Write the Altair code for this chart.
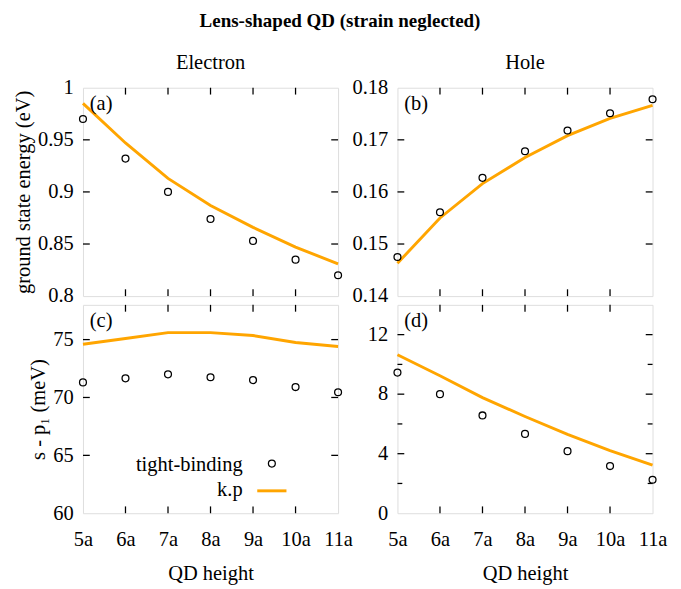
import altair as alt
import pandas as pd

# ---------------- data ----------------
heights = [5, 6, 7, 8, 9, 10, 11]
height_labels = ["5a", "6a", "7a", "8a", "9a", "10a", "11a"]

tb_electron = [0.970, 0.932, 0.900, 0.874, 0.853, 0.835, 0.820]
kp_electron = [0.985, 0.947, 0.913, 0.887, 0.866, 0.847, 0.831]

tb_hole = [0.1475, 0.1561, 0.1627, 0.1678, 0.1718, 0.1751, 0.1778]
kp_hole = [0.1463, 0.1550, 0.1616, 0.1666, 0.1708, 0.1741, 0.1766]

tb_sp_electron = [71.3, 71.65, 72.0, 71.75, 71.5, 70.9, 70.45]
kp_sp_electron = [74.6, 75.1, 75.6, 75.6, 75.35, 74.75, 74.4]

tb_sp_hole = [9.45, 8.0, 6.57, 5.33, 4.17, 3.17, 2.25]
kp_sp_hole = [10.65, 9.24, 7.77, 6.5, 5.3, 4.21, 3.23]

legend_labels = ["tight-binding", "k.p"]

FONT = "Liberation Serif"
W, H = 262, 214
TICK = 7
ORANGE = "#FFA500"
LBL = 21   # tick label size
TTL = 21   # axis title size


def panel(tb, kp, ydom, yticks, fmt, label, minor=None, show_x=False,
          ytitle="", title=None, legend=False):
    df = pd.DataFrame({"h": heights, "tb": tb, "kp": kp})
    xscale = alt.Scale(domain=[5, 11], nice=False, zero=False)
    yscale = alt.Scale(domain=ydom, nice=False, zero=False)
    if show_x:
        xaxis = alt.Axis(values=heights, labelExpr="datum.value + 'a'",
                         ticks=False, domain=False, grid=False,
                         labelOverlap=False, labelFlush=False,
                         labelFont=FONT, labelFontSize=LBL, labelColor="black",
                         labelPadding=16, title="QD height", titleFont=FONT,
                         titleFontSize=TTL, titleFontWeight="normal",
                         titleColor="black", titlePadding=14)
    else:
        xaxis = None
    yaxis = alt.Axis(values=yticks, format=fmt, ticks=False, domain=False,
                     grid=False, labelOverlap=False, labelFlush=False,
                     labelFont=FONT, labelFontSize=LBL,
                     labelColor="black", labelPadding=10, title=ytitle,
                     titleFont=FONT, titleFontSize=TTL,
                     titleFontWeight="normal", titleColor="black",
                     titlePadding=4)
    X = alt.X("h:Q", scale=xscale, axis=xaxis, title="QD height" if show_x else None)
    Yk = alt.Y("kp:Q", scale=yscale, axis=yaxis, title=ytitle)

    line = alt.Chart(df).mark_line(color=ORANGE, strokeWidth=3).encode(x=X, y=Yk)
    pts = alt.Chart(df).mark_point(shape="circle", filled=False, color="black",
                                   opacity=1, size=50, strokeWidth=1.3).encode(
        x=X, y=alt.Y("tb:Q", scale=yscale, axis=yaxis, title=ytitle))

    inner_x = [h for h in heights if 5 < h < 11]
    xt = pd.DataFrame({"h": inner_x})
    xt_bot = alt.Chart(xt).mark_rule(color="black", strokeWidth=1.3).encode(
        x=X, y=alt.value(H - TICK), y2=alt.value(H))
    xt_top = alt.Chart(xt).mark_rule(color="black", strokeWidth=1.3).encode(
        x=X, y=alt.value(0), y2=alt.value(TICK))

    Yv = alt.Y("v:Q", scale=yscale, axis=yaxis, title=ytitle)
    inner_y = [v for v in yticks if ydom[0] < v < ydom[1]]
    yt = pd.DataFrame({"v": inner_y})
    yt_l = alt.Chart(yt).mark_rule(color="black", strokeWidth=1.3).encode(
        y=Yv, x=alt.value(0), x2=alt.value(TICK))
    yt_r = alt.Chart(yt).mark_rule(color="black", strokeWidth=1.3).encode(
        y=Yv, x=alt.value(W - TICK), x2=alt.value(W))
    layers = [line, pts, xt_bot, xt_top, yt_l, yt_r]
    if minor:
        ym = pd.DataFrame({"v": minor})
        layers.append(alt.Chart(ym).mark_rule(color="black", strokeWidth=1.3).encode(
            y=Yv, x=alt.value(0), x2=alt.value(5)))
        layers.append(alt.Chart(ym).mark_rule(color="black", strokeWidth=1.3).encode(
            y=Yv, x=alt.value(W - 5), x2=alt.value(W)))
    lab = alt.Chart(pd.DataFrame({"t": [label]})).mark_text(
        font=FONT, fontSize=TTL, align="left", baseline="middle", color="black"
    ).encode(text="t:N", x=alt.value(7), y=alt.value(17))
    layers.append(lab)
    if legend:
        lt = pd.DataFrame({"t": legend_labels, "yy": [165, 190]})
        layers.append(alt.Chart(lt).mark_text(
            font=FONT, fontSize=TTL, align="right", baseline="middle", color="black"
        ).encode(text="t:N", x=alt.value(164), y=alt.Y("yy:Q", scale=None, axis=None)))
        layers.append(alt.Chart(pd.DataFrame({"t": [legend_labels[0]]})).mark_point(
            shape="circle", filled=False, color="black", opacity=1, size=50,
            strokeWidth=1.3
        ).encode(x=alt.value(194), y=alt.value(163)))
        layers.append(alt.Chart(pd.DataFrame({"t": [legend_labels[1]]})).mark_rule(
            color=ORANGE, strokeWidth=3
        ).encode(x=alt.value(179), x2=alt.value(209), y=alt.value(191)))

    ch = alt.layer(*layers).properties(width=W, height=H)
    if title:
        ch = ch.properties(title=alt.TitleParams(title, font=FONT, fontSize=TTL,
                                                 fontWeight="normal", color="black",
                                                 offset=4))
    return ch


pa = panel(tb_electron, kp_electron, [0.8, 1.0], [0.8, 0.85, 0.9, 0.95, 1.0],
           ".2~f", "(a)", ytitle="ground state energy (eV)", title="Electron")
pb = panel(tb_hole, kp_hole, [0.14, 0.18], [0.14, 0.15, 0.16, 0.17, 0.18],
           ".2~f", "(b)", title="Hole")
pc = panel(tb_sp_electron, kp_sp_electron, [60, 78], [60, 65, 70, 75],
           "d", "(c)", show_x=True, ytitle="s - p₁ (meV)", legend=True)
pd_ = panel(tb_sp_hole, kp_sp_hole, [0, 14], [0, 4, 8, 12], "d", "(d)",
            minor=[2, 6, 10], show_x=True)

chart = alt.concat(pa, pb, pc, pd_, columns=2,
                   spacing=alt.RowColnumber(row=9, column=61),
                   bounds="flush").properties(
    title=alt.TitleParams("Lens-shaped QD (strain neglected)", font=FONT,
                          fontSize=19.5, fontWeight="bold", color="black",
                          anchor="middle", offset=21),
    padding={"left": 4, "top": -4, "right": 5, "bottom": 0},
).configure_view(stroke="black", strokeWidth=1.8).configure(background="white")

chart.save("out.html", embed_options={"renderer": "svg", "actions": False})
